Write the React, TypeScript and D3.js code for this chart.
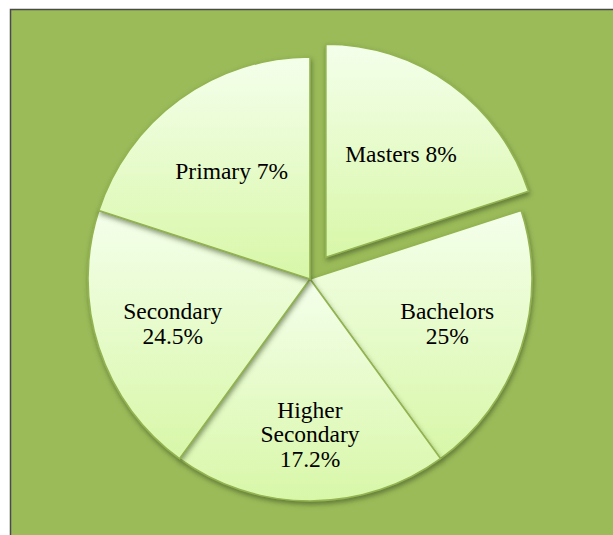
import React from "react";
import * as d3 from "d3";

// ---- data ----
const categories = ["Masters", "Bachelors", "Higher Secondary", "Secondary", "Primary"];
const sliceValues = [20, 20, 20, 20, 20];
const labelLines = [
  ["Masters 8%"],
  ["Bachelors", "25%"],
  ["Higher", "Secondary", "17.2%"],
  ["Secondary", "24.5%"],
  ["Primary 7%"],
];
const explodedCategory = "Masters";

// ---- layout ----
const W = 613;
const H = 535;
const CX = 310;
const CY = 279;
const R = 222;
const EXPLODE_OFFSET = 27;
const EXPLODED_R = 213;
const FONT = "'Liberation Serif', 'Times New Roman', serif";
const FS = 23.5;
const LH = 24.5;

export default function App() {
  const pie = d3
    .pie<number>()
    .sort(null)
    .value((d) => d)
    .startAngle(0)
    .endAngle(2 * Math.PI);
  const arcs = pie(sliceValues);

  const slices = arcs.map((a, i) => {
    const exploded = categories[i] === explodedCategory;
    const mid = (a.startAngle + a.endAngle) / 2;
    const off = exploded ? EXPLODE_OFFSET : 0;
    const tx = CX + Math.sin(mid) * off;
    const ty = CY - Math.cos(mid) * off;
    const outer = exploded ? EXPLODED_R : R;
    const arcGen = d3.arc<d3.PieArcDatum<number>>().innerRadius(0).outerRadius(outer);
    const lines = labelLines[i];
    const n = lines.length;
    const dist = outer * 0.6 + (n - 1) * R * 0.05;
    const lx = tx + Math.sin(mid) * dist;
    const ly = ty - Math.cos(mid) * dist;
    return { a, tx, ty, d: arcGen(a) || "", lines, lx, ly, key: categories[i] };
  });

  return (
    <svg
      width={W}
      height={H}
      viewBox={`0 0 ${W} ${H}`}
      style={{ position: "absolute", left: 0, top: 0, background: "#ffffff" }}
    >
      <defs>
        <linearGradient id="sliceGrad" x1="0" y1="0" x2="0" y2="1">
          <stop offset="0%" stopColor="#f4ffeb" />
          <stop offset="100%" stopColor="#d8f7a8" />
        </linearGradient>
        <filter id="shadow" x="-20%" y="-20%" width="140%" height="140%">
          <feDropShadow dx="1" dy="3" stdDeviation="2.5" floodColor="#34481a" floodOpacity="0.55" />
        </filter>
      </defs>
      <rect x={10.5} y={9.5} width={W + 20} height={H + 20} fill="#9bbb59" stroke="#4a4a4a" strokeWidth={1.5} />
      {slices.map((s) => (
        <g key={s.key} transform={`translate(${s.tx},${s.ty})`}>
          <path d={s.d} fill="url(#sliceGrad)" stroke="#93b451" strokeWidth={1.6} filter="url(#shadow)" />
        </g>
      ))}
      {slices.map((s) => (
        <text
          key={s.key + "-label"}
          textAnchor="middle"
          fontFamily={FONT}
          fontSize={FS}
          fill="#000000"
        >
          {s.lines.map((line, j) => (
            <tspan
              key={j}
              x={s.lx}
              y={s.ly - ((s.lines.length - 1) * LH) / 2 + j * LH + FS * 0.33}
            >
              {line}
            </tspan>
          ))}
        </text>
      ))}
    </svg>
  );
}
